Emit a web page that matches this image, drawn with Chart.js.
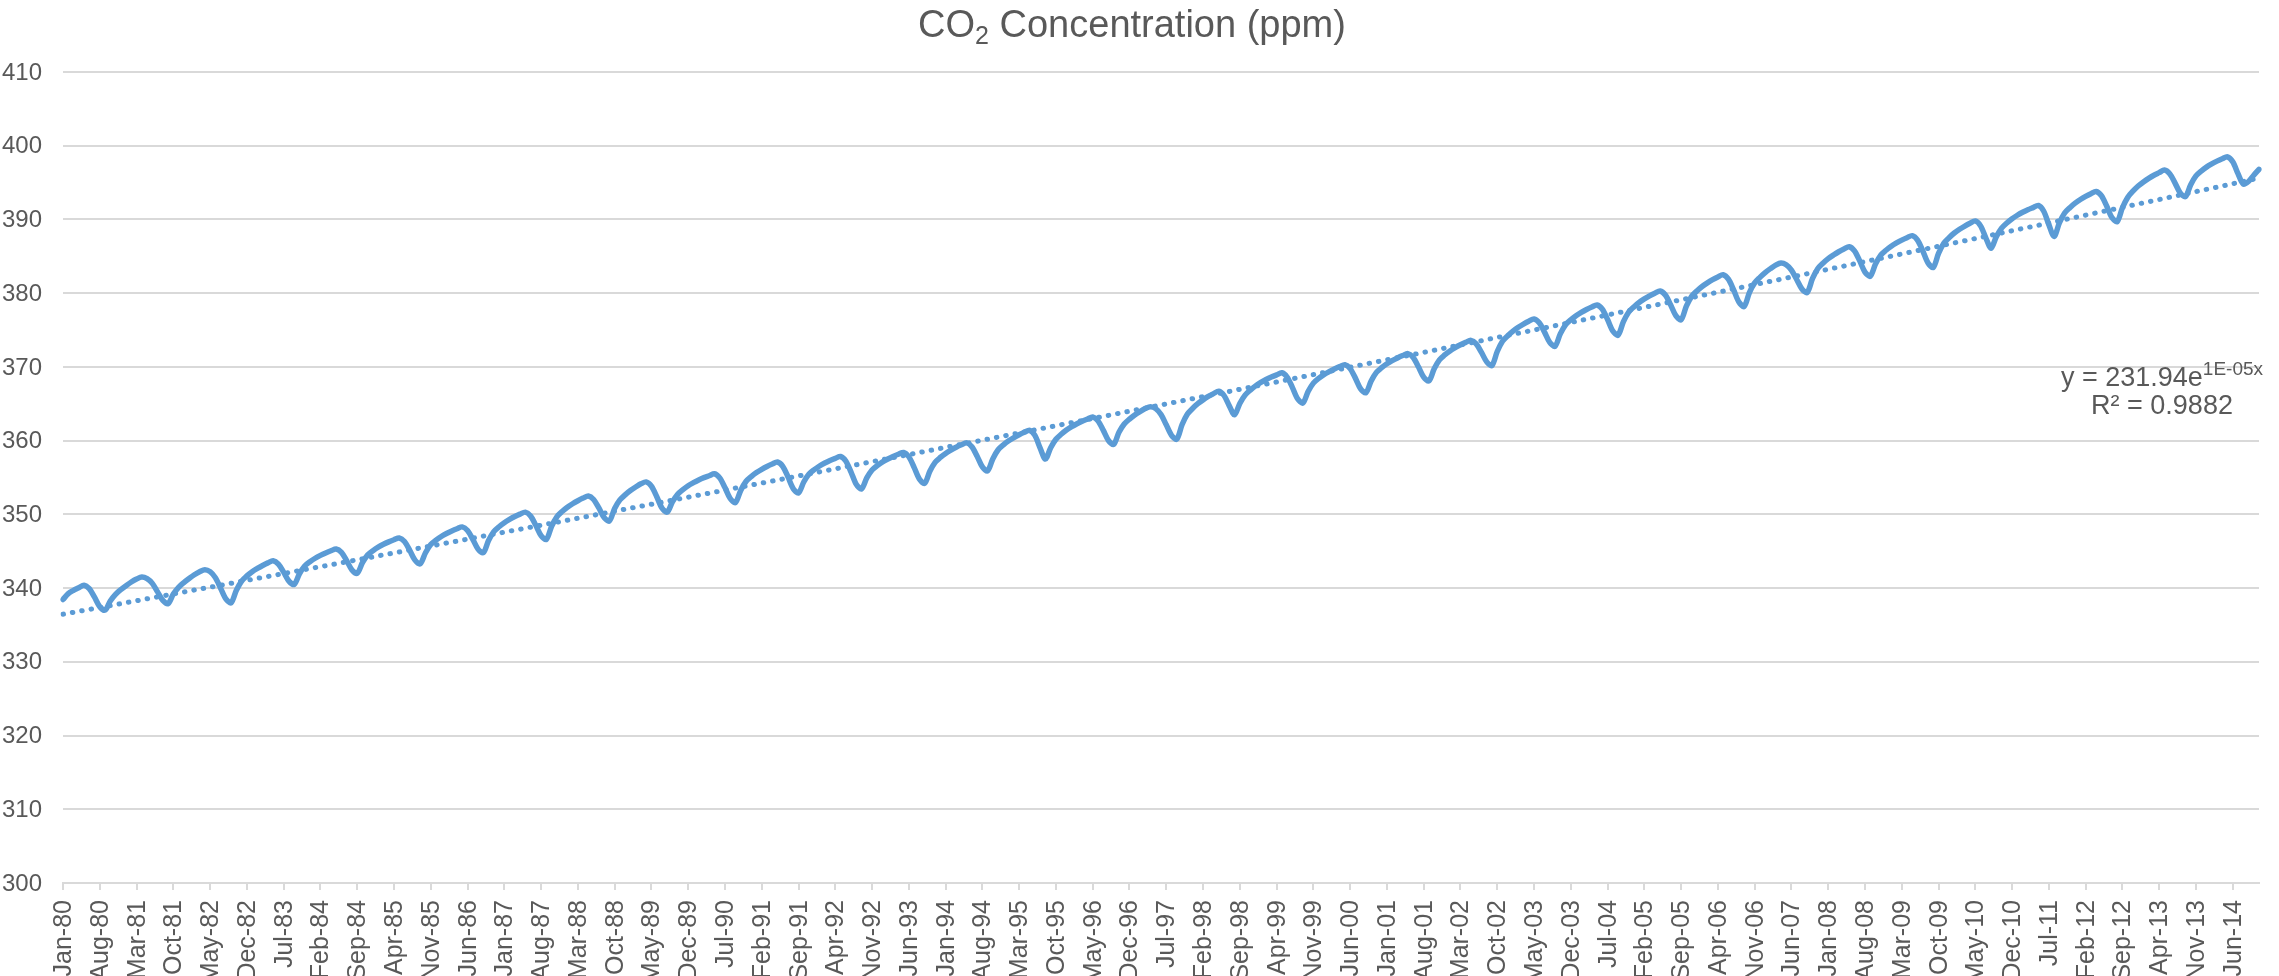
<!DOCTYPE html>
<html>
<head>
<meta charset="utf-8">
<title>CO2 Concentration (ppm)</title>
<script src="https://cdn.jsdelivr.net/npm/chart.js@4.4.1/dist/chart.umd.min.js"></script>
<style>
  html, body { margin: 0; padding: 0; background: #ffffff; overflow: hidden; }
  #wrap { position: absolute; left: 0; top: 0; width: 2279px; height: 976px; }
  #chart { display: block; width: 2279px; height: 976px; }
</style>
</head>
<body>
<div id="wrap"><canvas id="chart" width="2279" height="976"></canvas></div>
<script>
// Monthly CO2 concentration, ppm, January 1980 onward
const MONTH_NAMES = ['Jan','Feb','Mar','Apr','May','Jun','Jul','Aug','Sep','Oct','Nov','Dec'];
const FIRST_YEAR = 1980;

const co2_1980s = [
  338.45,339.25,339.70,340.05,340.40,339.92,338.77,337.48,337.00,338.26,339.16,339.79,
  340.33,340.83,341.23,341.50,341.28,340.64,339.48,338.33,337.90,339.19,340.11,340.75,
  341.30,341.81,342.22,342.50,342.23,341.42,339.98,338.54,338.00,339.71,340.96,341.65,
  342.22,342.67,343.07,343.42,343.70,343.25,342.16,340.95,340.50,341.94,343.00,343.57,
  344.05,344.44,344.77,345.06,345.30,344.84,343.72,342.46,342.00,343.44,344.50,345.07,
  345.55,345.94,346.27,346.56,346.80,346.31,345.12,343.79,343.30,344.80,345.90,346.50,
  347.00,347.40,347.75,348.05,348.30,347.81,346.62,345.29,344.80,346.45,347.66,348.32,
  348.87,349.31,349.70,350.03,350.30,349.78,348.52,347.12,346.60,348.37,349.67,350.38,
  350.97,351.44,351.85,352.21,352.50,352.02,350.87,349.58,349.10,350.80,351.96,352.65,
  353.23,353.71,354.14,354.40,353.83,352.43,350.87,350.30,351.70,352.74,353.37,353.89
];
const co2_1990s = [
  354.30,354.67,354.98,355.24,355.50,354.95,353.63,352.15,351.60,353.25,354.46,355.12,
  355.67,356.11,356.50,356.83,357.10,356.51,355.08,353.49,352.90,354.39,355.47,356.07,
  356.56,356.96,357.31,357.60,357.85,357.23,355.74,354.07,353.45,354.94,356.02,356.62,
  357.11,357.51,357.86,358.15,358.40,357.81,356.38,354.79,354.20,355.85,357.06,357.72,
  358.27,358.71,359.10,359.43,359.70,359.17,357.88,356.43,355.90,357.55,358.76,359.42,
  359.97,360.41,360.80,361.13,361.40,360.70,358.98,357.50,359.04,360.18,360.86,361.43,
  361.89,362.29,362.63,362.92,363.20,362.68,361.42,360.02,359.50,361.13,362.25,362.92,
  363.48,363.94,364.35,364.60,364.34,363.54,362.14,360.73,360.20,362.15,363.58,364.36,
  365.01,365.53,365.99,366.38,366.70,366.12,364.72,363.50,365.04,366.18,366.86,367.43,
  367.89,368.29,368.63,368.92,369.20,368.63,367.23,365.67,365.10,366.66,367.80,368.43
];
const co2_2000s = [
  368.95,369.36,369.73,370.04,370.30,369.77,368.48,367.03,366.50,368.09,369.26,369.89,
  370.42,370.85,371.22,371.54,371.80,371.28,370.02,368.62,368.10,369.75,370.96,371.62,
  372.17,372.61,373.00,373.33,373.60,373.12,371.97,370.68,370.20,372.09,373.48,374.23,
  374.86,375.37,375.81,376.19,376.50,375.98,374.72,373.32,372.80,374.48,375.71,376.38,
  376.94,377.39,377.78,378.12,378.40,377.83,376.43,374.87,374.30,376.10,377.42,378.14,
  378.74,379.22,379.64,380.00,380.30,379.75,378.43,376.95,376.40,378.23,379.57,380.30,
  380.91,381.40,381.83,382.20,382.50,381.90,380.44,378.80,378.20,380.09,381.39,382.15,
  382.80,383.33,383.81,384.10,383.86,383.14,381.86,380.58,380.10,381.96,383.32,384.07,
  384.69,385.18,385.62,385.99,386.30,385.74,384.38,382.86,382.30,383.95,385.16,385.82,
  386.37,386.81,387.20,387.53,387.80,387.20,385.74,384.10,383.50,385.39,386.78,387.53
];
const co2_2010s = [
  388.16,388.67,389.11,389.49,389.80,389.13,387.51,386.10,387.67,388.83,389.52,390.10,
  390.57,390.97,391.32,391.61,391.90,391.14,389.30,387.70,389.53,390.87,391.60,392.21,
  392.70,393.13,393.50,393.80,393.23,391.83,390.27,389.70,391.59,392.99,393.83,394.53,
  395.09,395.58,396.00,396.35,396.70,396.20,394.97,393.60,393.10,394.72,395.91,396.56,
  397.10,397.53,397.91,398.23,398.50,397.83,396.21,394.80,395.15,396.00,396.80
];

// Value axis and label spacing
const Y_MIN = 300, Y_MAX = 410, Y_STEP = 10;
const LABEL_EVERY = 7;

// Exponential trendline y = a * e^(b * x), x = spreadsheet date serial
const TREND_A = 231.94;
const TREND_B = 1.273e-5;
const TREND_R2 = 0.9882;

const TITLE_MAIN = 'CO', TITLE_SUB = '2', TITLE_REST = ' Concentration (ppm)';

const FONT = '"Liberation Sans", Arial, Helvetica, sans-serif';
const TEXT_COLOR = '#595959';
const GRID_COLOR = '#d9d9d9';
const LINE_COLOR = '#5B9BD5';
const TICK_LEN = 7;

const co2 = [...co2_1980s, ...co2_1990s, ...co2_2000s, ...co2_2010s];
const labels = co2.map((_, i) => {
  const yr = FIRST_YEAR + Math.floor(i / 12);
  return MONTH_NAMES[i % 12] + '-' + String(yr % 100).padStart(2, '0');
});
const dateSerial = i =>
  (Date.UTC(FIRST_YEAR + Math.floor(i / 12), i % 12, 1) - Date.UTC(1899, 11, 30)) / 86400000;
const trend = co2.map((_, i) => TREND_A * Math.exp(TREND_B * dateSerial(i)));

function excelSci(v) {
  const [m, e] = v.toExponential(0).split('e');
  const n = parseInt(e, 10);
  return m + 'E' + (n < 0 ? '-' : '+') + String(Math.abs(n)).padStart(2, '0');
}

// Axis labels, tick marks, title with subscript and the trendline equation
const textPlugin = {
  id: 'chartTexts',
  afterDraw(chart) {
    const ctx = chart.ctx;
    const xs = chart.scales.x, ys = chart.scales.y;
    const area = chart.chartArea;
    ctx.save();
    ctx.fillStyle = TEXT_COLOR;

    // value axis labels
    ctx.font = '24px ' + FONT;
    ctx.textAlign = 'right';
    ctx.textBaseline = 'middle';
    ys.ticks.forEach(t => {
      ctx.fillText(String(t.value), area.left - 21, ys.getPixelForValue(t.value) + 1);
    });

    // category tick marks and rotated labels
    ctx.strokeStyle = GRID_COLOR;
    ctx.lineWidth = 2;
    ctx.font = '25px ' + FONT;
    for (let i = 0; i < labels.length; i += LABEL_EVERY) {
      const px = Math.round(xs.getPixelForValue(i));
      ctx.beginPath();
      ctx.moveTo(px, area.bottom);
      ctx.lineTo(px, area.bottom + TICK_LEN);
      ctx.stroke();
      ctx.save();
      ctx.translate(px + 1, area.bottom + TICK_LEN + 10);
      ctx.rotate(-Math.PI / 2);
      ctx.textAlign = 'right';
      ctx.textBaseline = 'middle';
      ctx.fillText(labels[i], 0, 0);
      ctx.restore();
    }

    ctx.textBaseline = 'alphabetic';
    ctx.textAlign = 'left';

    // title
    const bigFont = '38px ' + FONT, subFont = '25px ' + FONT;
    ctx.font = bigFont;
    const w1 = ctx.measureText(TITLE_MAIN).width;
    const w3 = ctx.measureText(TITLE_REST).width;
    ctx.font = subFont;
    const w2 = ctx.measureText(TITLE_SUB).width;
    let x = 1132 - (w1 + w2 + w3) / 2;
    const base = 37;
    ctx.font = bigFont; ctx.fillText(TITLE_MAIN, x, base); x += w1;
    ctx.font = subFont; ctx.fillText(TITLE_SUB, x, base + 7); x += w2;
    ctx.font = bigFont; ctx.fillText(TITLE_REST, x, base);

    // trendline equation
    const eqFont = '27px ' + FONT, supFont = '19px ' + FONT;
    const line1 = 'y = ' + TREND_A.toFixed(2) + 'e';
    const sup = excelSci(TREND_B) + 'x';
    const line2 = 'R\u00B2 = ' + TREND_R2.toFixed(4);
    const cx = 2162;
    ctx.font = eqFont;
    const l1w = ctx.measureText(line1).width;
    const l2w = ctx.measureText(line2).width;
    ctx.font = supFont;
    const sw = ctx.measureText(sup).width;
    const ex = cx - (l1w + sw) / 2;
    ctx.font = eqFont; ctx.fillText(line1, ex, 386);
    ctx.font = supFont; ctx.fillText(sup, ex + l1w, 375);
    ctx.font = eqFont; ctx.fillText(line2, cx - l2w / 2, 414);
    ctx.restore();
  }
};

Chart.defaults.font.family = FONT;
Chart.defaults.color = TEXT_COLOR;

new Chart(document.getElementById('chart').getContext('2d'), {
  type: 'line',
  data: {
    labels: labels,
    datasets: [
      {
        label: 'Expon. trend',
        data: trend,
        borderColor: LINE_COLOR,
        borderWidth: 5,
        borderDash: [0.5, 9],
        borderCapStyle: 'round',
        pointRadius: 0,
        tension: 0,
        fill: false,
        order: 0
      },
      {
        label: 'CO2 (ppm)',
        data: co2,
        borderColor: LINE_COLOR,
        borderWidth: 5.5,
        borderJoinStyle: 'round',
        borderCapStyle: 'round',
        pointRadius: 0,
        tension: 0.3,
        fill: false,
        order: 1
      }
    ]
  },
  options: {
    responsive: false,
    maintainAspectRatio: false,
    animation: false,
    devicePixelRatio: 1,
    layout: { padding: { top: 72, right: 20, left: 63, bottom: 976 - 883 } },
    plugins: {
      legend: { display: false },
      tooltip: { enabled: false },
      title: { display: false }
    },
    scales: {
      x: {
        type: 'category',
        offset: false,
        grid: { display: false, drawTicks: false },
        border: { display: true, color: GRID_COLOR, width: 2 },
        ticks: { display: false }
      },
      y: {
        min: Y_MIN,
        max: Y_MAX,
        ticks: { display: false, stepSize: Y_STEP },
        grid: { color: GRID_COLOR, lineWidth: 2, drawTicks: false },
        border: { display: false }
      }
    }
  },
  plugins: [textPlugin]
});
</script>
</body>
</html>
